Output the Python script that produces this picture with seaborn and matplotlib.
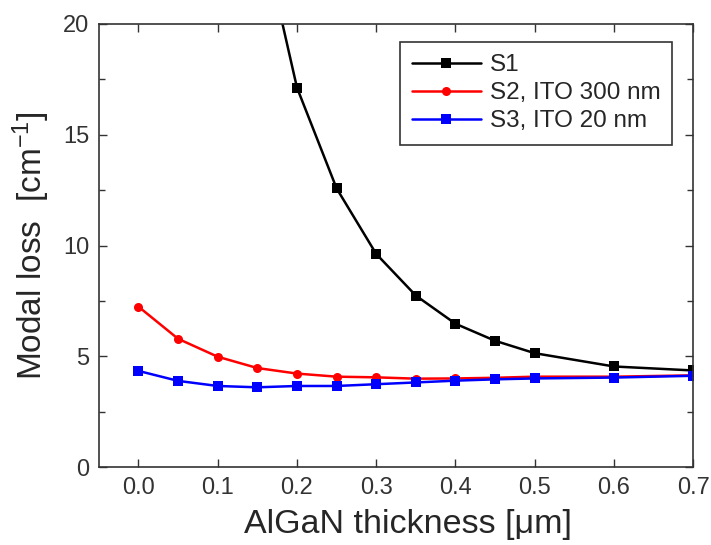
import matplotlib
matplotlib.use("Agg")
import matplotlib.pyplot as plt
import seaborn as sns
import pandas as pd
from matplotlib.ticker import MultipleLocator

thickness_s1 = [0.15, 0.20, 0.25, 0.30, 0.35, 0.40, 0.45, 0.50, 0.60, 0.70]
loss_s1 = [25.0, 17.13, 12.58, 9.62, 7.74, 6.47, 5.70, 5.14, 4.54, 4.36]

thickness = [0.0, 0.05, 0.10, 0.15, 0.20, 0.25, 0.30, 0.35, 0.40, 0.45, 0.50, 0.60, 0.70]
loss_s2 = [7.24, 5.79, 4.98, 4.47, 4.22, 4.08, 4.05, 3.99, 4.00, 4.03, 4.08, 4.08, 4.14]
loss_s3 = [4.34, 3.89, 3.66, 3.60, 3.66, 3.66, 3.74, 3.82, 3.90, 3.96, 4.00, 4.04, 4.12]

labels = ["S1", "S2, ITO 300 nm", "S3, ITO 20 nm"]
colors = ["black", "#ff0000", "#0000ff"]
markers = ["s", "o", "s"]
xtick_labels = ["0.0", "0.1", "0.2", "0.3", "0.4", "0.5", "0.6", "0.7"]

sns.set_style("ticks")
plt.rcParams['font.family'] = ['Liberation Sans', 'DejaVu Sans']
plt.rcParams['mathtext.fontset'] = 'custom'
plt.rcParams['mathtext.rm'] = 'Liberation Sans'
plt.rcParams['mathtext.it'] = 'Liberation Sans'
plt.rcParams['mathtext.default'] = 'regular'

fig = plt.figure(figsize=(7.11, 5.45), dpi=100)
ax = fig.add_axes([0.139, 0.143, 0.836, 0.813])

series = [(thickness_s1, loss_s1), (thickness, loss_s2), (thickness, loss_s3)]
for (xs, ys), lab, col, mk in zip(series, labels, colors, markers):
    df = pd.DataFrame({"x": xs, "y": ys})
    sns.lineplot(data=df, x="x", y="y", ax=ax, color=col, marker=mk,
                 markersize=6.5, markeredgewidth=0, linewidth=1.8, label=lab)

ax.set_xlim(-0.05, 0.7)
ax.set_ylim(0, 20)
ax.yaxis.set_major_locator(MultipleLocator(5))
ax.yaxis.set_minor_locator(MultipleLocator(2.5))
ax.set_xticks([0.0, 0.1, 0.2, 0.3, 0.4, 0.5, 0.6, 0.7])
ax.set_xticklabels(xtick_labels)
ax.tick_params(which="both", direction="in", top=True, right=True,
               labelsize=17, labelcolor="#333333", color="#333333", pad=7)
ax.tick_params(which="major", length=6, width=1)
ax.tick_params(which="minor", length=4, width=1)
for s in ax.spines.values():
    s.set_color("#333333")
    s.set_linewidth(1.2)

ax.set_xlabel("AlGaN thickness [\u03bcm]", fontsize=24.5)
ax.xaxis.set_label_coords(0.52, -0.094, transform=ax.transAxes)
ax.xaxis.label.set_va("top")
ax.set_ylabel("Modal loss  [cm$^{\u2212 1}$]", fontsize=24, labelpad=8)

leg = ax.legend(loc="upper right", bbox_to_anchor=(0.965, 0.959), borderaxespad=0,
                fontsize=17.5, frameon=True, fancybox=False, edgecolor="black",
                handlelength=2.85, handletextpad=0.35, labelspacing=0.25,
                borderpad=0.5)
leg.get_frame().set_linewidth(1.2)

fig.savefig("out.png", dpi=100)
